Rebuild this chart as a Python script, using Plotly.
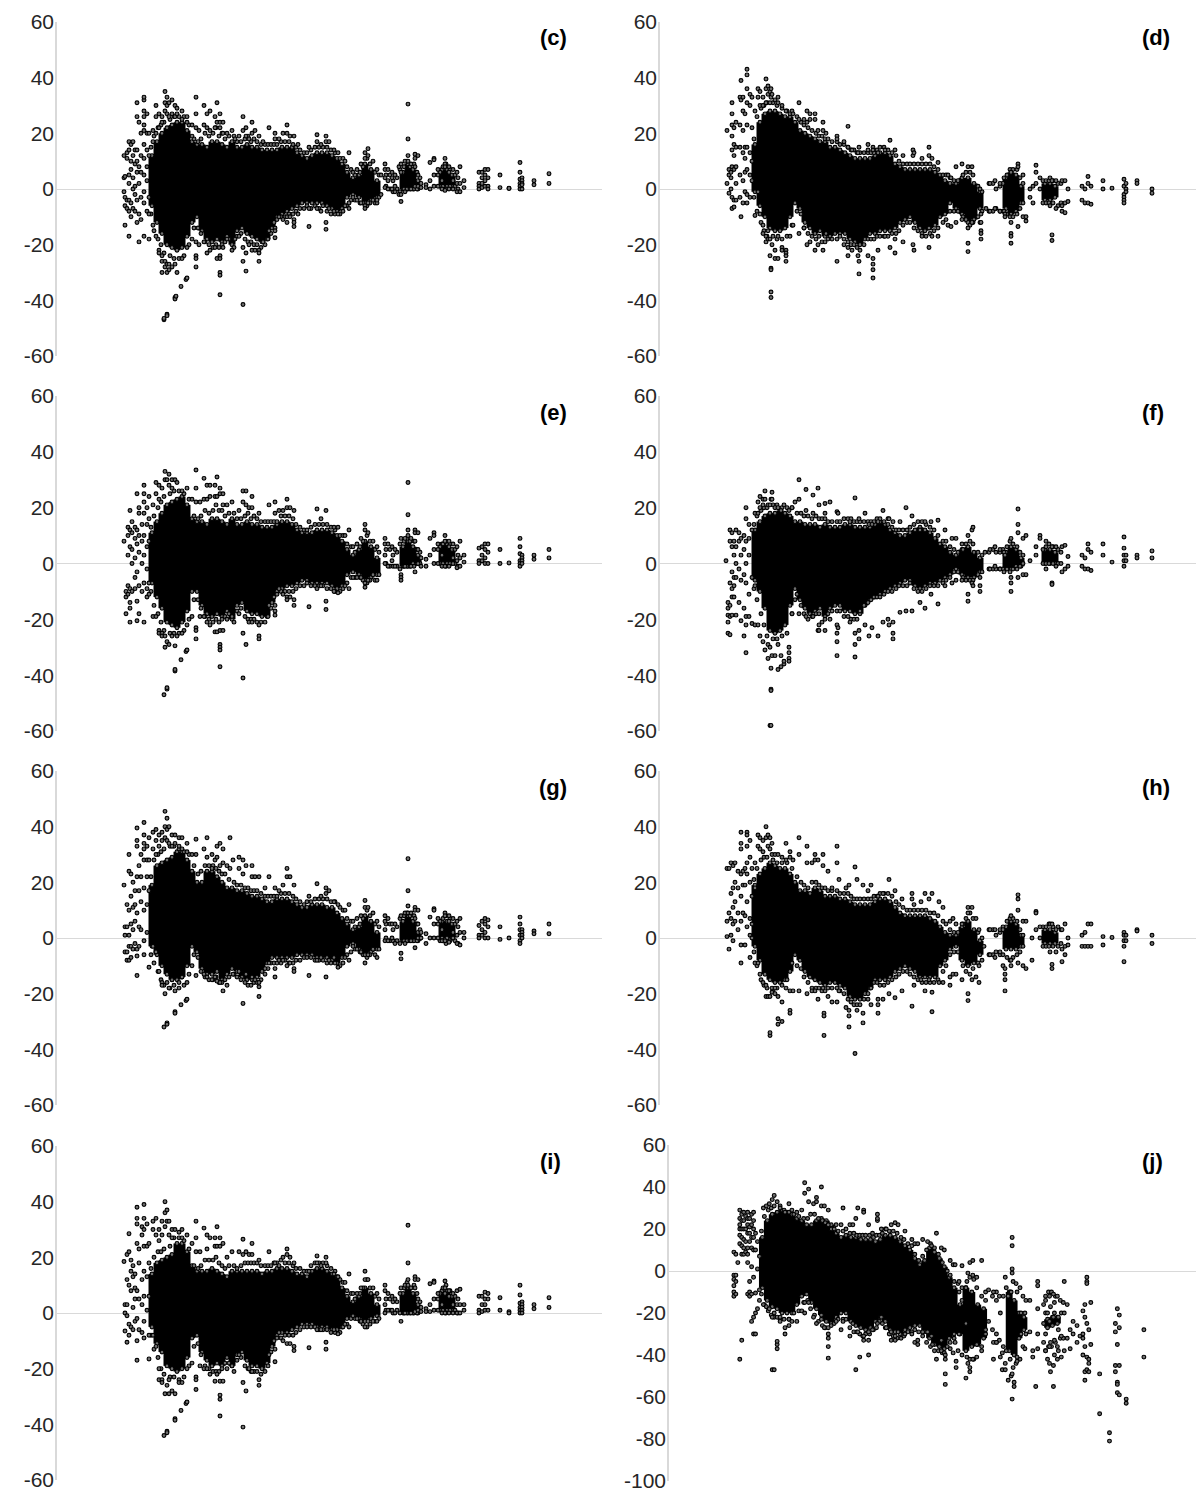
import plotly.graph_objects as go

# ---- data -----------------------------------------------------------------
# Solid black part of every cloud: one column per BAND_X, from LO to HI.
BAND_X = [95,100,105,110,115,120,125,130,135,140,145,150,155,160,165,170,175,180,185,190,
          195,200,205,210,215,220,225,230,235,240,245,250,255,260,265,270,275,280,285,290,
          296,302,308,314,320,346,351,356,361,385,390,395]

C_LO = [-6,-12,-16,-20,-21,-22,-21,-17,-12,-10,-15,-18,-19,-18,-19,-17,-20,-15,-14,-16,-17,-18,-19,-18,-14,-10,-9,-8,-7,-6,-5,-5,-5,-5,-5,-6,-7,-8,-7,-3,-2,-3,-5,-4,-3,0,0,0,0,1,1,1]
C_HI = [12,17,20,22,23,24,24,21,17,16,16,15,17,17,16,15,17,15,15,16,15,15,14,14,14,14,15,15,15,13,12,11,12,13,13,13,12,11,9,6,4,5,9,7,3,6,9,7,3,7,7,5]
D_LO = [-1,-6,-10,-14,-15,-15,-14,-10,-5,-7,-12,-14,-16,-15,-17,-17,-16,-16,-16,-18,-19,-20,-18,-16,-16,-15,-15,-15,-14,-12,-11,-10,-12,-14,-15,-14,-13,-10,-9,-5,-7,-9,-12,-11,-7,-7,-9,-8,-5,-4,-4,-3]
D_HI = [16,24,27,28,28,27,26,26,24,21,20,19,18,17,17,15,15,14,13,12,11,11,11,11,12,13,13,12,9,8,7,7,7,7,7,7,6,5,3,2,2,4,4,2,-1,4,6,5,1,2,2,1]
E_LO = [-7,-12,-16,-21,-22,-23,-21,-17,-10,-10,-15,-18,-19,-18,-19,-17,-20,-15,-14,-17,-18,-18,-19,-19,-14,-10,-9,-8,-8,-7,-6,-6,-7,-7,-7,-7,-8,-9,-8,-4,-3,-4,-6,-5,-4,-1,-1,0,0,0,0,0]
E_HI = [11,15,18,21,22,23,24,21,16,15,15,14,16,16,15,14,16,14,14,15,14,14,13,13,13,14,15,15,14,12,11,11,11,12,12,12,11,10,8,5,3,5,8,6,2,6,8,6,3,7,7,5]
F_LO = [-6,-10,-16,-24,-25,-24,-22,-15,-9,-13,-16,-18,-17,-16,-19,-16,-15,-15,-17,-17,-18,-18,-15,-13,-12,-11,-10,-9,-8,-7,-6,-6,-8,-9,-8,-7,-7,-6,-5,-4,-2,-4,-5,-5,-3,-2,-2,-1,-1,0,0,0]
F_HI = [12,15,17,18,18,19,18,17,15,15,14,14,14,13,14,13,13,13,14,14,13,13,13,13,14,15,14,12,11,10,10,11,12,13,12,11,9,7,6,4,3,5,6,4,2,4,6,5,2,5,5,4]
G_LO = [-3,-6,-10,-13,-15,-15,-14,-10,-3,-5,-11,-13,-13,-12,-15,-13,-11,-12,-14,-15,-15,-14,-12,-9,-7,-7,-7,-7,-7,-6,-6,-6,-6,-7,-7,-7,-8,-9,-7,-3,-2,-4,-6,-5,-4,-1,-1,-1,-1,0,0,0]
G_HI = [19,26,27,28,29,31,31,28,24,20,20,24,24,22,20,18,18,17,17,16,15,15,14,13,13,14,14,14,13,12,11,11,12,12,12,11,11,9,7,5,3,4,8,6,2,6,8,6,2,6,6,5]
H_LO = [-3,-8,-13,-15,-16,-16,-15,-12,-6,-8,-12,-14,-15,-16,-17,-16,-16,-17,-18,-21,-22,-22,-20,-18,-15,-15,-15,-14,-12,-11,-10,-11,-12,-14,-14,-14,-14,-10,-8,-4,-3,-8,-10,-9,-6,-4,-4,-4,-3,-2,-2,-2]
H_HI = [19,23,25,27,26,25,25,23,20,17,17,16,18,17,15,15,15,14,14,13,12,12,12,12,13,14,14,13,11,9,8,8,8,8,8,7,6,4,2,1,1,4,6,3,-1,4,6,5,1,3,3,2]
I_LO = [-5,-11,-14,-19,-20,-21,-20,-16,-9,-8,-14,-17,-19,-18,-19,-16,-19,-15,-14,-17,-19,-19,-20,-18,-12,-8,-7,-7,-6,-5,-4,-4,-4,-5,-5,-5,-6,-6,-5,-2,-1,-2,-3,-2,-1,0,0,0,0,1,1,1]
I_HI = [14,18,19,20,21,25,25,22,17,15,15,15,16,15,14,13,15,15,15,15,15,15,14,15,15,16,16,16,15,14,14,13,15,16,16,15,14,13,9,6,4,6,9,7,3,7,9,7,3,8,8,6]
J_LO = [-8,-14,-17,-18,-20,-20,-20,-16,-12,-11,-15,-18,-21,-24,-25,-22,-20,-20,-24,-26,-27,-28,-27,-24,-22,-24,-28,-29,-30,-28,-27,-26,-26,-29,-32,-35,-36,-37,-32,-30,-30,-38,-36,-35,-32,-38,-40,-32,-28,-27,-26,-25]
J_HI = [16,24,27,28,29,28,27,25,24,22,22,24,25,24,22,18,16,17,16,16,15,15,15,14,15,17,17,16,14,12,10,6,3,5,11,9,6,2,-3,-8,-16,-8,-10,-16,-18,-10,-14,-20,-22,-23,-22,-22]

# The fringe of circles round the solid part: one upper and one lower circle per FRINGE_X.
FRINGE_X = [94,97,101,104,107,113,117,122,127,132,
            137,141,144,148,152,156,159,162,165,168,
            172,177,180,184,188,191,194,197,200,204,
            208,211,214,217,220,224,228,232,236,239,
            243,247,250,254,258,262,266,270,274,278,
            283,286,290,294,298,303,306,310,313,318,
            322,329,333,336,340,343,347,350,353,357,
            360,363,383,386,389,393,398,401]

C_TOP = [15,19,22,23,24,25,26,26,26,23,18,17,18,20,19,20,22,19,20,18,19,19,17,17,18,19,17,18,17,16,16,16,16,16,16,17,17,17,16,15,14,13,13,14,15,15,15,15,14,13,11,11,8,7,5,6,8,11,9,6,5,5,5,3,4,7,8,10,8,9,6,4,6,8,9,7,5,4]
C_BOT = [-9,-15,-18,-20,-23,-24,-25,-25,-24,-20,-14,-14,-16,-19,-20,-21,-20,-21,-20,-19,-18,-21,-17,-16,-18,-19,-19,-20,-20,-21,-20,-18,-16,-12,-11,-10,-10,-9,-9,-8,-7,-7,-6,-7,-6,-7,-6,-8,-9,-9,-9,-8,-6,-4,-4,-5,-5,-6,-5,-5,-3,1,0,-1,0,-1,0,0,0,0,0,1,1,1,0,1,1,0]
D_TOP = [18,26,29,30,31,31,30,29,28,28,26,24,23,22,21,20,19,19,18,18,17,17,16,16,15,14,14,13,13,13,13,13,13,14,15,15,14,13,12,10,9,9,9,9,9,9,9,9,8,7,5,5,4,3,3,5,6,6,5,1,-1,2,2,0,1,2,5,7,7,7,4,2,3,3,3,3,2,2]
D_BOT = [-3,-8,-12,-15,-17,-17,-18,-18,-17,-13,-8,-9,-14,-16,-17,-18,-17,-19,-19,-18,-18,-18,-17,-18,-19,-20,-20,-21,-22,-20,-18,-18,-18,-17,-17,-17,-17,-16,-16,-15,-13,-12,-12,-14,-15,-16,-17,-16,-15,-14,-12,-11,-8,-8,-8,-10,-11,-13,-12,-10,-8,-8,-8,-7,-8,-8,-9,-10,-10,-9,-7,-5,-5,-5,-5,-5,-6,-5]
E_TOP = [13,17,20,22,24,25,26,26,25,23,17,16,17,19,18,19,21,19,19,17,18,18,16,16,17,18,16,17,16,15,15,15,15,15,15,17,17,17,16,14,13,12,12,13,14,14,14,14,13,12,10,10,7,6,4,6,8,10,8,5,4,5,5,3,4,7,8,9,8,8,5,4,6,7,8,7,5,3]
E_BOT = [-10,-15,-18,-21,-24,-25,-25,-25,-24,-20,-13,-13,-16,-19,-20,-21,-20,-21,-20,-19,-18,-21,-17,-16,-19,-20,-20,-20,-21,-21,-21,-19,-16,-12,-11,-10,-10,-10,-10,-9,-8,-8,-7,-8,-8,-8,-8,-9,-9,-10,-10,-9,-7,-5,-5,-5,-6,-7,-6,-6,-4,0,-1,-1,-1,-2,-1,-1,-1,-1,0,0,0,0,-1,0,0,-1]
F_TOP = [14,17,19,20,20,21,21,20,20,20,18,18,17,17,16,17,16,16,16,15,15,15,15,16,16,16,15,15,15,15,15,15,15,16,16,15,14,13,12,12,12,12,13,14,15,15,14,13,12,10,8,8,6,5,4,5,7,8,7,4,3,4,5,4,4,5,6,8,7,6,4,3,5,6,7,6,5,4]
F_BOT = [-9,-13,-18,-22,-26,-27,-27,-26,-25,-18,-11,-15,-18,-20,-19,-18,-18,-21,-20,-18,-17,-17,-17,-19,-19,-20,-20,-20,-17,-15,-14,-13,-12,-12,-12,-11,-10,-10,-9,-8,-8,-8,-7,-9,-10,-10,-9,-8,-8,-8,-7,-6,-5,-3,-3,-5,-6,-6,-6,-4,-3,-2,-2,-2,-2,-2,-2,-3,-2,-2,-1,0,0,0,0,0,0,0]
G_TOP = [22,28,30,31,32,33,33,32,31,30,26,23,24,26,26,26,25,24,23,23,21,20,19,19,18,18,17,17,17,16,15,15,15,15,15,16,16,16,15,14,13,12,13,13,14,14,14,14,13,13,11,10,7,6,4,5,7,10,8,5,4,5,5,3,4,7,8,9,8,8,5,3,6,7,8,7,5,4]
G_BOT = [-6,-9,-12,-15,-17,-18,-17,-18,-17,-13,-6,-7,-12,-14,-15,-15,-14,-16,-16,-15,-14,-13,-14,-15,-16,-17,-17,-16,-16,-15,-13,-11,-9,-9,-9,-9,-8,-9,-9,-8,-8,-7,-7,-7,-8,-8,-8,-9,-9,-9,-10,-9,-6,-5,-4,-5,-6,-7,-6,-6,-4,0,-1,-1,-1,-2,-1,-1,-1,-1,-1,0,-1,-1,-2,-1,-1,-2]
H_TOP = [21,25,28,29,29,28,27,27,27,25,22,20,19,18,20,20,19,18,18,17,17,17,16,16,16,15,14,14,14,14,14,14,15,15,16,16,16,15,13,12,11,10,10,10,10,10,10,9,9,8,6,5,3,2,2,5,7,9,7,2,0,3,3,1,2,4,6,7,7,6,3,1,4,4,5,4,4,3]
H_BOT = [-5,-10,-15,-17,-18,-19,-18,-17,-15,-9,-10,-11,-14,-16,-18,-18,-18,-19,-19,-18,-18,-18,-19,-20,-22,-23,-24,-24,-24,-22,-20,-18,-16,-16,-17,-17,-16,-15,-14,-13,-12,-12,-13,-14,-15,-16,-16,-16,-16,-15,-12,-10,-6,-5,-5,-10,-12,-13,-11,-9,-8,-6,-6,-5,-6,-6,-7,-8,-7,-6,-5,-3,-3,-3,-3,-3,-3,-2]
I_TOP = [16,20,22,22,23,24,27,27,26,23,17,16,17,19,19,19,20,18,17,16,17,17,16,17,18,18,18,18,18,17,17,17,17,18,18,19,18,18,17,16,16,15,15,17,18,18,18,17,16,15,12,11,8,7,5,7,9,12,9,6,5,5,5,4,4,7,9,11,9,10,7,4,7,9,10,8,6,5]
I_BOT = [-8,-13,-16,-20,-22,-23,-23,-24,-23,-19,-12,-11,-15,-19,-20,-21,-21,-21,-20,-18,-18,-21,-17,-16,-19,-20,-21,-21,-21,-22,-21,-19,-14,-10,-9,-9,-8,-8,-8,-7,-6,-5,-5,-5,-5,-6,-6,-6,-7,-7,-7,-5,-4,-2,-2,-3,-4,-5,-4,-3,-2,1,1,0,1,0,0,0,0,0,0,1,1,1,0,1,1,0]
J_TOP = [19,26,29,30,31,31,29,28,27,26,25,25,27,27,25,24,23,22,20,20,19,19,20,18,18,17,17,17,17,17,16,17,17,18,20,19,19,18,16,15,13,12,8,5,7,10,13,11,8,4,0,-2,-5,-6,-8,-5,-3,-4,-8,-12,-14,-12,-10,-12,-12,-8,-10,-5,-6,-8,-12,-14,-12,-10,-10,-12,-14,-15]
J_BOT = [-11,-16,-19,-21,-22,-23,-23,-23,-20,-19,-15,-14,-18,-21,-24,-26,-27,-27,-26,-25,-23,-23,-23,-27,-29,-29,-30,-31,-30,-30,-28,-27,-24,-25,-27,-30,-31,-32,-32,-31,-29,-29,-28,-29,-31,-34,-36,-38,-38,-39,-36,-34,-32,-38,-40,-41,-42,-42,-41,-36,-30,-28,-34,-33,-36,-38,-42,-46,-44,-42,-36,-30,-38,-36,-36,-34,-32,-32]

# Separate circles: horizontal position -> the values seen in that strip.
C_PTS = {67:[12,4,-1],68:[4.5,-3,-6,-13],70:[13,11,-4,-7],72:[17,14,5,2,-4,-8,-17],74:[16,10,7,-5,-10],76:[17,12,4,0,-7],78:[14,9,1,-2,-8],80:[31,26,14,10,6,-4,-12],82:[24,8,2,-9,-19],84:[20,12,6,-3,-11],87:[32,33,28,26,23,21,16,11,5,-1,-5,-17],90:[27,20,14,8,3,-8],92:[20,12,-3,-9,-18],96:[21,17,-13],99:[30,26,20,-17],102:[27,22,-22,-23],105:[26,24,-24,-26,-30],107:[-47,-46.5],108:[35,31,28,-26,-28],110:[33,30,27,-30,-27,-45,-45.5],112:[31,26,-27,-29],115:[32,27,-28],118:[30,26,-27,-39,-39.5],119:[-38.5],120:[29,27,-30],124:[-35],125:[28,25,-25],129:[-32.5],130:[26,24,-21,-32],135:[23,19,-18],139:[33,27,22,-19,-24,-25,-28],142:[21,-20],147:[30,23,-19],150:[27,22,-23],153:[28,21,-22],158:[26,22,-21],160:[31,24,-25],163:[27,24,22,-24,-25,-30,-31,-38],166:[24,20,-21],170:[20,-18],175:[21,-22],178:[18,-18],182:[19,-17],186:[26,21,-21,-26,-41.5],189:[22,19,-29.5,-23],192:[18,-20],195:[24,20,-22],198:[21,-22],202:[19,-22,-23,-26],206:[17,-19],212:[22,-15],218:[20,18,-14,-15,-17.5],222:[18,-10],226:[20,-11],230:[23,20,-10,-12],233:[19,-10],237:[19,-11,-12,-13.5],241:[16,-9],252:[15,-7,-13.5],260:[19.5,17,-7],264:[16,-8],269:[19,17,-12,-14.5],272:[17,-7],277:[14,-8],281:[13,-9],288:[10,-6],292:[13,-7,-5],296:[6,-3],300:[7,-4],304:[9,-5],308:[13,11,-6,-7],311:[14.5,12,-5],316:[10,-4],320:[7,-5,-4],324:[5,-2],328:[9,7,4,0.5],331:[7,3,0],335:[6,4,0],338:[5,1,-1],342:[8,-2],344:[9,6,-2,-4.5],348:[10,-1],351:[30.5,18,12,10],354:[9,0],358:[12.5,11,8,1],361:[12,5,1],364:[2,0.5],369:[1.5,0.5],373:[9.5,3,0],377:[11,10.5,5,1],381:[7,5,1],385:[3,0],388:[11,9,8,-0.5],392:[8,6,0],396:[7,3,0],400:[6,2,-1],403:[8,2,-1],407:[3,0.5],422:[6,2,1,0],425:[6,4,2,0.5],428:[7,5,3,1],431:[7,4,1,0],443:[5,0.5],452:[0.3,0.2],463:[9.5,6,3.5,2,1,0],465:[4,3,2,1.5,0],477:[3,1.5],492:[5.5,2]}

D_PTS = {67:[21,2],69:[7,5,-1.5],71:[6,4,0],72:[31,27,23,19,14,8,-3,-7],74:[22,16,12,7,-4,-6.5],76:[24,15,8,2,-4],80:[33,23,15,5,-3],81:[39,32,-10],83:[33,28,21,13,3,-5],85:[27,15,11,6,-1],87:[43,41,36,31,23,15,7,-2,-5],90:[34,30,13,5,-3],92:[33,22,10,3],95:[28,-9.5],98:[36,33,-1],100:[35,30,-9],103:[33,30,-13,-16],106:[39.5,36,31,-17,-19],108:[37,34,-15,-18],110:[35,31,-18,-24],111:[36,33,-28.5,-29,-37,-39],112:[34,-20],115:[32,-22,-25],118:[31,33,-17,-25],122:[30,-21,-22],126:[28,-22,-23,-24,-26],130:[27,-17],133:[27,-13],139:[31,25,-16],144:[25,-14],147:[28,24,-20],150:[27,25,-19],155:[27,25,-22],158:[21,-20],163:[24,21,-22],166:[20,-16],177:[19,18,-26],184:[17,-20],188:[22.5,15,-24,-21],192:[14,-22],198:[13,-24],199:[15,-30.5,-26],208:[16,14,-24],213:[15,14,-32,-29,-27,-25],218:[13,-22],225:[14,-17],230:[17.5,-21],235:[14,-23,-18],243:[12,-19],253:[14,12,-20],254:[13,-22],262:[11,-17],269:[15,12,-14,-21],272:[11,-17],278:[9.5,-17],288:[5,-13],291:[4,-13.5],296:[8,-12],302:[9,-11],308:[8,-19.5,-22.5,-14],312:[8,-12],320:[0,-12],321:[-9,-12,-15,-16,-18],326:[-7],330:[2,-8],335:[3,-7],340:[2,-8],344:[4,-8],345:[-9,-10],351:[6,-12,-16,-17,-19.5],358:[9,8,-13.5],363:[5,-10],366:[-10,-11.5],370:[0,-3],373:[1,-5],376:[8.5,6,2],380:[4,0],390:[4,-6],392:[3,-16.5,-18.5],396:[3,-7],402:[3,-6,-8],405:[3,-5,-8.5],408:[0,-4.5],422:[1,-4],425:[0,-5],428:[4.5,2,-5],431:[1,-5.5],443:[3,0],452:[0.3],464:[3.5,1,-2,-3,-4,-5],466:[2,0,-1],477:[3,2],492:[0,-1.5]}

E_PTS = {67:[8],69:[-10,-12,-18],71:[13,10,3,-8,-11],73:[19,12,6,-9,-14,-16,-21],75:[15,11,5,0,-10],78:[13,9,2,-5,-9],80:[25,12,7,-3,-13.5,-20.5],82:[20,18,10,4,-8,-18],85:[14,8,0,-10],87:[28,25,22,18,10,3,-7,-21],90:[20,14,6,-2,-9,-12],92:[24,16,8,-7,-11],96:[21,-19],99:[29,25,-19],102:[28,23,-24,-25],105:[27,-25,-26],107:[-47],108:[33,30,-30,-26],110:[30,-28,-45,-44.5],112:[32,28,-29],115:[30,27,-26],118:[30,-29.5,-38.5,-38],120:[29,-26],124:[-34.5],125:[26,-25],129:[-31.5],130:[27,-22,-31],135:[23,-19],139:[33.5,27,22,-23,-24,-27],143:[22,-19],147:[30.5,23,-19],150:[28,23,-21],153:[28,24,-22],158:[28,24,-24.5],160:[31,24,-24.5],163:[27,25,-24,-29,-30,-31,-37],166:[25,21,-24],170:[21,-20],175:[22,-19],182:[19,-18],186:[26,22,-25,-41],189:[26,21,-29],192:[20,-21],195:[24,20,-21],202:[18,-26,-27,-22],212:[21,-15],218:[22,18,-15,-18.5,-17],222:[19,-9],226:[19,-11],230:[23,20,-12,-13],233:[20,-12],237:[19,-13,-15],252:[15,-15.5],260:[19.5,-9],264:[16,-8],269:[19,-13.5,-16.5],277:[13,-10],281:[13,-10.5],288:[10,-8],292:[12,-9],296:[6,-5],300:[7,-5],304:[9,-5],308:[14,12,-7,-8.5],311:[11,-6],316:[8,-4],320:[6,-6],328:[9,7,3,0],331:[7,-1],335:[6,1],338:[5,-1],344:[9,-4,-5,-6],348:[9,-1],351:[29,17.5,12,10],354:[9,-1],358:[12,11,8,-3],361:[11,5,0],364:[2,-1],369:[1.5,-1],373:[9,3],377:[11,10,5,0],381:[7,5,0],385:[3,-1],388:[10,8,-1],392:[8,6,-1],396:[7,2,0],400:[6,1,-1.5],403:[8,2,-1],407:[3,0.5],422:[5.5,1,0],425:[6,3,1],428:[7,5,2,0],431:[7,4,0],443:[5,0],452:[0.2],463:[9,6,3.5,1,0,-1],465:[3,2,1,0],477:[3,1.5],492:[5,2]}

F_PTS = {66:[1],68:[-16,-14,-18.5,-21,-25],70:[12,8,-7,-15,-19,-25.5],72:[11,6,-3,-9,-12,-18.5],74:[8,3,-5,-8,-12],76:[12,6,0,-5,-18.5],79:[11,8,-2,-14],81:[9,3,-6,-20.5],84:[10,5,-4,-16,-26],86:[20,16,8,0,-7,-19,-22,-32],89:[14,9,3,-11,-19],92:[12,-5,-21.5],95:[18,-8,-22],98:[22,18,-22],100:[24,20,-26],103:[23,21,-28],105:[26,23,-31],108:[21,-29,-34],110:[21,-30,-58],111:[23,-37.5,-45,-45.5,-58],112:[25.5,23,-33],115:[20,-33],118:[20,-29,-38],121:[19,-33,-37],124:[21,-36,-35],129:[19,-30,-32,-34,-35],132:[20,-18],135:[22,-13],139:[30,23,-18],146:[26.5,19,-19],153:[24.5,18,-19],158:[27,-24],159:[21,-22,-24],165:[21.5,18,-24],170:[22,-20],177:[18.5,-22,-28,-33,-25],178:[18,-23],190:[15,-21],195:[23.5,-29,-33.5,-25],199:[16,-27,-24],205:[18,-22],209:[14,-26],212:[14,-23],218:[15,-26],223:[19,-21],228:[16,-20],229:[16,-22],233:[15,-25,-27,-21],240:[15,-17.5],246:[20,-17],252:[17,-17],260:[12,-14],265:[15,-16],271:[15,-11],278:[15.5,-14.5],285:[12,-8],292:[9,-7],296:[9,-6],302:[7,-6],308:[10,-11,-13.5],312:[12,-7],313:[13,-8],320:[-5,-8,-10],325:[4],330:[5,-2],335:[6,-1],340:[5,-2],344:[4,-3],345:[3],351:[9,-5,-7,-10],358:[19.5,14,11,-5],363:[9,-4],366:[10,-4],370:[1],376:[6,3],380:[10,9],386:[8,-2],392:[6,-7,-7.5],396:[6,-1],402:[6,-3],405:[6.5,-2],408:[2.5,-1],422:[3,-1],425:[2,-2],428:[7,5,-2],431:[4,-2.5],443:[7,3],452:[0.5],464:[9.5,5.5,3,1,-1],466:[3,1],477:[3,2],492:[4.5,2]}

G_PTS = {67:[19],68:[4,1,-5],70:[12,4,-5,-8],72:[30,24,10,1,-3,-8],74:[23,15,5,-3,-7],76:[20,11,3,-4],78:[17,12,6,-2],80:[39.5,35,33,22,9,-4,-6.5,-13.5],82:[26,17,4,-3],84:[30,22,13,3],87:[41.5,37,34,32,28,18,10,-1,-6],90:[33,28,22,12,2],92:[36,28,17,-10.5],96:[38,32,-3],99:[39,35,30,-5],102:[37,33,-12],105:[38,35,-16,-17],107:[-32],108:[45.5,40,36,-20],110:[43,39,35,-16,-30.5,-31],112:[40,34,-18],115:[37,33,-15],118:[37,34,-19,-26.5,-27],122:[36,33,-16],124:[-24],125:[36,32,-14],129:[-22.5],130:[34,31,-16,-22],135:[30,-10],139:[35.5,30,-13.5],147:[32,-13],150:[36,29,-14],155:[30,25,-15],158:[28,-14],160:[33,29,-15.5],163:[34,26,-16],166:[32,27,-19],170:[26,-17],173:[36,25],176:[28,-13],182:[29,25,-12],186:[28,23,-23.5],189:[26,-13],195:[26,22,-14],198:[22,-15],202:[22,-16,-17.5,-21],208:[18,-11],212:[22,-9],218:[18,-11,-14],222:[17,-8],226:[19,-8],230:[25,22,-10],233:[22,-9],237:[19,-11,-12],252:[15,-13.5],260:[19.5,-8],264:[15,-7],269:[18,16,-14],272:[17,-8],277:[13,-7],281:[12,-10.5],288:[10,-7],292:[12,-8],296:[6,-3],300:[7,-4],304:[8,-5],308:[13.5,11,-6,-9],311:[11,-6],316:[9,-4],320:[6,-7],328:[8,6,3,-1],331:[7,-1],335:[5,0],338:[5,-2],344:[8,-5.5,-7.5],348:[9,-2],351:[28.5,17,11.5,9],354:[9,-1],358:[11,10,7,-3.5],361:[10,5,0],364:[2,0],369:[1.5,-2],373:[7.5,0],377:[10.5,10,5,0],381:[7,5,0],385:[3,-1],388:[9,8,-1],392:[8,6,-1.5],396:[7,2,0],400:[6,1,-2],403:[7,2,-2.5],407:[2,0],422:[4.5,1,0],425:[6,3,1],428:[7,5,2,0],431:[6.5,4,0],443:[4,-0.5],452:[0],463:[7.5,5,3,1,-1,-2],465:[3,2,1,0],477:[2.5,1.5],492:[5,1.5]}

H_PTS = {67:[25,6,0.5],69:[25,9,-4],71:[27,16,7,1],73:[26,18,11,5,-1],75:[27,20,13,6],78:[24,18,9,3],81:[38,34,32,23,15,6,-2.5,-9],83:[24,19,9],85:[25,19,8,-2.5],87:[38,37,33,27,23,13,4],90:[35,29,20,7,1,-7],92:[25,15,5,0],95:[27,18,-9],98:[37,33,-9],100:[36,32,-13],103:[35,31,-16],106:[40,36,-17,-21],108:[37,33,-21],110:[36,32,-21,-35,-34],112:[34,30,-18,-19.5],115:[30,-20,-18],118:[30,-21,-29,-31],122:[29,-23,-30],126:[34,28,-18],130:[31,29,-19,-26,-27],133:[28,-19],139:[36,30,-19],147:[33,27,-20],152:[27,-19],155:[30,28,-19],158:[28,-22],163:[30,26,-18],164:[-35,-27,-28],168:[24,-21],172:[18,-23],177:[33,27,-23],179:[21,-19],186:[18,-25],189:[19,-26,-28,-32],195:[25.5,-41.5],197:[21,-26],203:[19,-27,-30.5],208:[17,-22],211:[19,-24],218:[15,-22,-24,-27],223:[16,-22],229:[21,-20],235:[17,-21.5],242:[14,-19],252:[16,14,-24.5],254:[12,-17],261:[13,-15],265:[16,-19],269:[14,-15],272:[16,-19.5,-26.5],279:[13,-16],283:[11,-16],290:[6,-14,-17],293:[7,-13],296:[5,-13],302:[5,-15],308:[11,9,-20,-22.5],312:[11,-15],316:[7,-14],319:[3,-10,-16],324:[-3],330:[3,-6],335:[3,-7],340:[3,-5],343:[3,-10],345:[-11,-13,-15,-19],351:[8,-8,-10],358:[15.5,14,10,-9],363:[6,-10],366:[6,-11],372:[0,-8],376:[9.5,9,3],380:[4,0],390:[5,-5],392:[5,-9.5,-11],396:[3,-5],402:[3,-4,-8.5],405:[5,-3,-6],408:[0,-2.5],422:[1,-3],425:[2,-3],428:[5,-3],431:[5,-3],443:[0.5,-2.5],452:[0.2],464:[2,1,-1,-3,-8.5],466:[1,-1],477:[3,2.5],492:[1,-2]}

I_PTS = {67:[18.5],68:[3,0,-6.5],70:[21,12,3,-1,-10.5],72:[28.5,22,10,-4,-8],74:[19,15,8,-5],76:[17,13,2,-6],78:[14,9,5,-3],80:[38,34,32,25,8,-2,-10,-17],82:[23,18,5,-6],85:[31,28,12,3,-7],87:[39,34,30,24,15,6,-3,-9],90:[32,24,13,1],92:[25,18,6,-8,-16.5],96:[33,30,-8],99:[34,28,-12],102:[30,26,-20,-24],105:[33,28,-24,-25],107:[-44],108:[40,36,31,-29],110:[37,33,-26,-42.5,-43],112:[33,28,-29,-24],115:[30,27,-28],118:[30,-29,-38,-38.5],122:[29,-25],124:[-35],125:[30,27,-25],129:[-32.5],130:[28,-20,-32],135:[25,-18],139:[33,27,22,-23,-24,-27.5],143:[22,-19],147:[30.5,-20],150:[28,23,-20],153:[27,-22],158:[27,24,-24.5],160:[31,24,-22],163:[27,24,-24.5,-29.5,-31,-37],166:[25,-24.5],170:[20,-20],175:[22,-19],182:[22,-15],186:[26.5,21,-25,-41],189:[22,-28],192:[21,-20],195:[25,21,-21],202:[19,-24,-26],212:[22,-15],218:[18,-13,-17.5],222:[17,-7],226:[20,-10],230:[23,21,-11],233:[20,-11],237:[18,-12,-13.5],252:[15,-12.5],260:[20.5,18,-6],264:[17,-6],269:[20,18,-10.5,-13],277:[14,-6],281:[13,-7.5],288:[11,-4],292:[14,-5],296:[7,-1],300:[7,-2],304:[9,-3],308:[15,12,-3,-5],311:[12,-3],316:[9,-3],320:[7,-3],328:[10,8,3,0],331:[7,1],335:[6,1],338:[5,0],344:[9,-3],348:[10,0],351:[31.5,18,12,10],354:[9,0],358:[13,12,9,0.5],361:[12,5,1],364:[2,0.5],369:[1.5,0.5],373:[10.5,3,0.5],377:[11.5,11,5,1],381:[7,5,1],385:[3,0],388:[11.5,9,7,0],392:[8,6,0],396:[7,3,0],400:[8,3,0],403:[8.5,3,0],407:[3,1],422:[6,1,0],425:[6,3,0.5],428:[7.5,5,3,1],431:[7,5,1],443:[5.5,1],452:[0.5,0],463:[10,6.5,3.5,2,1,0],465:[4,3,2,1,0],477:[3,1.5],492:[5.5,2]}

J_PTS = {66:[9,-2,-4,-7,-10,-12],68:[8,-2,-5,-11],70:[4],72:[29,25,22,20,17,13,-42],74:[27,24,20,16,12,8,-33],76:[28,24,20,15,11,8],78:[26,20,14,9],80:[28,25,22,18,11,8,4,-11],82:[25,21,18,14,-5,-10,-12],84:[27,22,16,11,2,-11,-24],86:[28,24,20,16,10,-3,-22,-30],88:[18,10,-10.5,-20,-30],90:[14,1,-18],92:[7,-9,-14],96:[30,-16],99:[31,-17],102:[32,-18],105:[34,-22,-47],107:[36,-20,-47],110:[33,-22,-35,-37,-33.5],113:[30,-22,-24],118:[28,-30,-27],122:[32,-26,-23],125:[29,-24],130:[28,-24],135:[29,-19],138:[42,37,-15,-20],142:[39,33,-15],147:[32,-22],150:[35,33,-25],155:[40,31,-23],158:[31,-27],162:[29,-30,-32,-36,-41.5],170:[22,-24],175:[22,-28],177:[30,-24],184:[22,-31],187:[22,-25],190:[25,-47],192:[30,-29],194:[-41],198:[29,28,-31,-33],203:[22,-29,-33,-40],207:[18,-28],212:[24,27,25,-25],216:[20,-22],221:[20,-27],226:[22,-29,-33],230:[23,-33,-31],233:[22,-29],240:[19,-30],247:[15,-30],250:[13,-34],253:[13,-33,-35],258:[15,-29],263:[14,-29],267:[12,-31],268:[-35],272:[18,-42],277:[11,-33,-38],280:[10,-39],281:[-40,-42,-49,-54],286:[5,-37],289:[3,-39],291:[3,-34],292:[-43,-46],295:[-10,-5,-30],298:[2.5,-14],302:[-8,-25,-51],304:[-1,-44],306:[4,-46,-48],309:[5,-2,-42],313:[-3,-35],318:[5,-38],322:[-10,-28],325:[-9,-24],330:[-10,-34,-42],333:[-14,-30,-34],337:[-20,-41],339:[-39,-47],342:[-3,-44,-47],345:[-12,-52],348:[-10,-50],349:[16,12,1,-1,-61,-49],351:[-53,-55],354:[-10,-43,-41],358:[-20,-30],362:[-20,-37],367:[-14,-29],370:[-38,-41],373:[-55],375:[-7,-5,-18,-30,-37],381:[-16,-25,-34],383:[-14,-20,-30,-38],385:[-20,-42],387:[-12,-24,-36,-44],388:[-17,-34,-48],391:[-11,-22,-45,-55],392:[-15,-20,-33,-40],395:[-12,-36,-42],396:[-22,-28,-38],399:[-20,-31,-41],402:[-5,-20,-38],405:[-16,-32],408:[-28,-37],411:[-24,-30],415:[-26,-34],418:[-31],421:[-19,-30,-32,-40],423:[-16,-22,-36,-48,-52],425:[-3,-5,-6,-25,-41,-47],427:[-28,-42,-44,-48],429:[-15,-35],438:[-49,-68],448:[-77,-81],454:[-25,-29,-45,-48],456:[-18,-35,-53,-54,-58],458:[-21,-27,-45,-59],465:[-61,-63],483:[-28,-41]}

TICKS = [60,40,20,0,-20,-40,-60]
J_TICKS = [60,40,20,0,-20,-40,-60,-80,-100]

# ---- layout (pixels of the 1196x1490 page) ---------------------------------
# The figure runs a little below the window so that the last tick labels keep their room.
W, H = 1196, 1520
PANELS = [
    ("(c)", C_LO, C_HI, C_TOP, C_BOT, C_PTS, 57, 602, 22, 356, TICKS, 553, 37),
    ("(d)", D_LO, D_HI, D_TOP, D_BOT, D_PTS, 660, 1196, 22, 356, TICKS, 1156, 37),
    ("(e)", E_LO, E_HI, E_TOP, E_BOT, E_PTS, 57, 602, 396, 731, TICKS, 553, 412),
    ("(f)", F_LO, F_HI, F_TOP, F_BOT, F_PTS, 660, 1196, 396, 731, TICKS, 1153, 412),
    ("(g)", G_LO, G_HI, G_TOP, G_BOT, G_PTS, 57, 602, 771, 1105, TICKS, 553, 787),
    ("(h)", H_LO, H_HI, H_TOP, H_BOT, H_PTS, 660, 1196, 771, 1105, TICKS, 1156, 787),
    ("(i)", I_LO, I_HI, I_TOP, I_BOT, I_PTS, 57, 602, 1146, 1480, TICKS, 550, 1161),
    ("(j)", J_LO, J_HI, J_TOP, J_BOT, J_PTS, 669, 1196, 1145, 1481, J_TICKS, 1152, 1161),
]
GREY = "#d9d9d9"
FONT = "Liberation Sans, Arial, sans-serif"
MARK = dict(size=3.8, color="#707070", line=dict(color="black", width=1.15))

fig = go.Figure()
layout = dict(
    width=W, height=H, autosize=False,
    margin=dict(l=0, r=0, t=0, b=0, autoexpand=False),
    paper_bgcolor="white", plot_bgcolor="white", showlegend=False, barmode="overlay",
    annotations=[],
)
for i, (name, lo, hi, top, bot, pts, x0, x1, y0, y1, ticks, lx, ly) in enumerate(PANELS, start=1):
    assert len(lo) == len(hi) == len(BAND_X), name
    assert len(top) == len(bot) == len(FRINGE_X), name
    sx = "" if i == 1 else str(i)
    fig.add_trace(go.Bar(x=BAND_X, y=[h - l for l, h in zip(lo, hi)], base=lo, width=7,
                         marker=dict(color="black", line=dict(width=0)),
                         xaxis="x" + sx, yaxis="y" + sx, hoverinfo="skip"))
    px = BAND_X + BAND_X + FRINGE_X + FRINGE_X + [x for x, ys in pts.items() for _ in ys]
    py = list(lo) + list(hi) + list(top) + list(bot) + [v for ys in pts.values() for v in ys]
    fig.add_trace(go.Scatter(x=px, y=py, mode="markers", marker=MARK,
                             xaxis="x" + sx, yaxis="y" + sx, name=name))
    layout["xaxis" + sx] = dict(
        domain=[x0 / W, x1 / W], range=[0, 536 if x0 > 600 else 545], anchor="y" + sx,
        visible=False, fixedrange=True)
    layout["yaxis" + sx] = dict(
        domain=[1 - y1 / H, 1 - y0 / H], range=[ticks[-1], ticks[0]], anchor="x" + sx,
        tickmode="array", tickvals=ticks, ticktext=[str(t) for t in ticks], ticklen=0,
        ticklabelstandoff=-3, showgrid=False, showline=True, linecolor=GREY, linewidth=1.5,
        zeroline=True, zerolinecolor=GREY, zerolinewidth=1,
        tickfont=dict(family=FONT, size=21, color="#262626"), fixedrange=True)
    layout["annotations"].append(dict(
        text="<b>%s</b>" % name, xref="paper", yref="paper", x=lx / W, y=1 - ly / H,
        xanchor="center", yanchor="middle", showarrow=False,
        font=dict(family=FONT, size=22, color="black")))
fig.update_layout(**layout)
fig.write_html("out.html",
               post_script="document.body.style.margin='0';"
                           "document.body.style.overflow='hidden';"
                           "document.documentElement.style.overflow='hidden';",
               config={"displayModeBar": False})
